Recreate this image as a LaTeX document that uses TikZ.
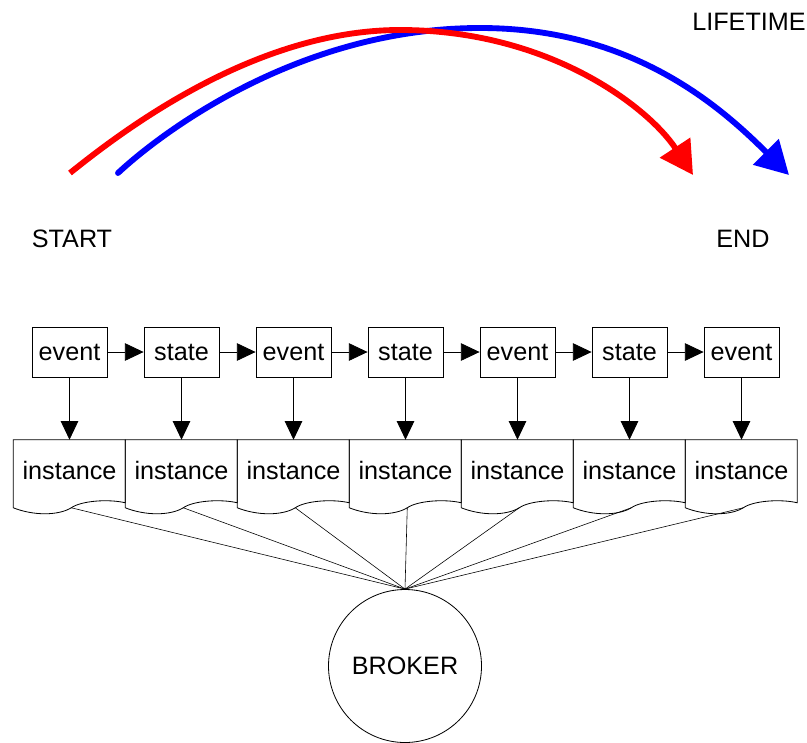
\documentclass[tikz,border=0pt]{standalone}
\usepackage{fontspec}
\setmainfont{Liberation Sans}
\usetikzlibrary{positioning,arrows.meta}

\begin{document}
\begin{tikzpicture}[x=0.3mm,y=-0.3mm,font=\fontsize{21.5}{24}\selectfont,
  >={Triangle[length=16pt,width=15pt]},
  flowbox/.style={draw,line width=0.7pt,minimum width=22.5mm,minimum height=15mm,inner sep=0pt},
  docbox/.style={minimum width=33.6mm,minimum height=18mm,inner sep=0pt},
  conn/.style={line width=0.7pt},
  bigarc/.style={line width=5pt,-{Triangle[length=28pt,width=30pt]}}]
\useasboundingbox (0,0) rectangle (807,742);
% ---- lifetime arcs ----
\coordinate (bs) at (118,173);
\coordinate (bt) at (480,28);
\coordinate (be) at (789,175);
\coordinate (rs) at (70,173);
\coordinate (rt) at (400,30);
\coordinate (re) at (693,175);
\draw[bigarc,blue,line cap=round] (bs) .. controls (162,132) and (300,28) .. (bt)
  .. controls (630,28) and (718,104) .. (be);
\draw[bigarc,red] (rs) .. controls (132,123) and (260,30) .. (rt)
  .. controls (550,30) and (649,108) .. (re);
\node (life) at (749,22) {LIFETIME};
\node (start) at (72,239) {START};
\node (endlbl) at (743,239) {END};
% ---- event / state chain ----
\foreach \i/\t in {1/event,2/state,3/event,4/state,5/event,6/state,7/event}
  \node[flowbox] (b\i) at ({69.5+112*(\i-1)},352) {\t};
\foreach \i [count=\j from 2] in {1,...,6}
  \draw[conn,->] (b\i) -- (b\j);
% ---- instances (document shapes) ----
\foreach \i in {1,...,7} {
  \node[docbox] (d\i) at ({69.5+112*(\i-1)},470) {instance};
  \begin{scope}[shift={(d\i.north west)}]
    \draw[conn] (0,0) -- (0,68) .. controls (20,76) and (45,76) .. (58,68)
      .. controls (68,61) and (95,59) .. (112,63) -- (112,0) -- cycle;
    \coordinate (w\i) at (58,68);
  \end{scope}
  \draw[conn,->] (b\i) -- (d\i);
}
% ---- broker ----
\node[circle,draw,conn,minimum size=45.9mm,inner sep=0pt] (broker) at (405,666) {BROKER};
\foreach \i in {1,...,7}
  \draw[line width=0.5pt] (w\i) -- (broker.north);
\end{tikzpicture}
\end{document}
